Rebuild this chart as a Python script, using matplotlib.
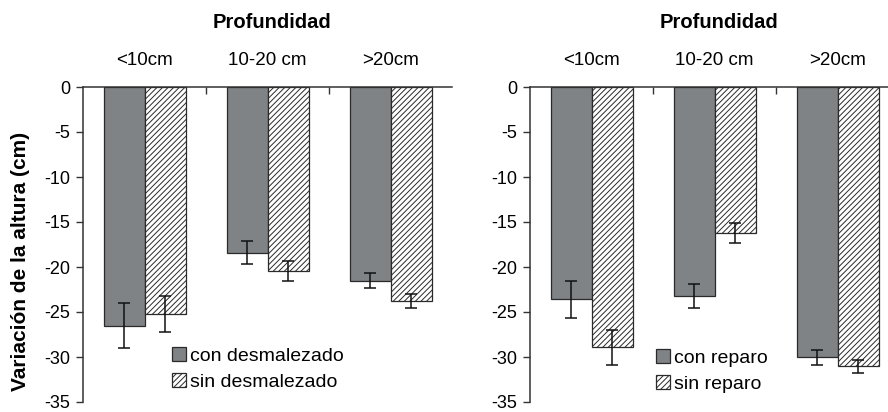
import matplotlib.pyplot as plt
import numpy as np
from matplotlib.patches import Patch

plt.rcParams['font.family'] = ['Liberation Sans', 'DejaVu Sans']
plt.rcParams['hatch.linewidth'] = 0.7

categories = ['<10cm', '10-20 cm', '>20cm']
yticks = [0, -5, -10, -15, -20, -25, -30, -35]

# left panel: weeding treatment
con_desm = [-26.5, -18.4, -21.5]
con_desm_err = [2.45, 1.3, 0.85]
sin_desm = [-25.2, -20.4, -23.8]
sin_desm_err = [2.0, 1.1, 0.8]

# right panel: shelter treatment
con_rep = [-23.6, -23.2, -30.05]
con_rep_err = [2.1, 1.3, 0.85]
sin_rep = [-28.9, -16.2, -31.05]
sin_rep_err = [1.95, 1.1, 0.7]

W, H = 888, 412
fig = plt.figure(figsize=(W / 100, H / 100), dpi=100)

gray = '#7f8385'
edge = '#2a2a2a'
w = 1 / 3


def panel(left, con, con_err, sin, sin_err, labels, leg_xy):
    ax = fig.add_axes([left / W, 10 / H, 369 / W, 315 / H])
    x = np.arange(len(categories))
    ax.bar(x - w / 2, con, w, color=gray, edgecolor=edge, linewidth=0.9,
           label=labels[0], zorder=2)
    ax.bar(x + w / 2, sin, w, color='white', edgecolor=edge, linewidth=0.9,
           hatch='//////', label=labels[1], zorder=2)
    ax.errorbar(x - w / 2, con, yerr=con_err, fmt='none', ecolor='#111111',
                elinewidth=1.1, capsize=4, capthick=1.1, zorder=3)
    ax.errorbar(x + w / 2, sin, yerr=sin_err, fmt='none', ecolor='#111111',
                elinewidth=1.1, capsize=4, capthick=1.1, zorder=3)

    ax.set_xlim(-0.5, 2.5)
    ax.set_ylim(-35, 0)
    ax.set_yticks(yticks)
    ax.set_yticklabels([str(t) for t in yticks], fontsize=13)
    ax.tick_params(axis='y', direction='out', length=5, width=1,
                   color='#333333', pad=4)

    ax.xaxis.tick_top()
    ax.set_xticks(x)
    ax.set_xticklabels(categories, fontsize=13.5)
    ax.set_xticks([0.5, 1.5], minor=True)
    ax.tick_params(axis='x', which='major', length=0, pad=13)
    ax.tick_params(axis='x', which='minor', direction='in', length=5,
                   width=1, color='#333333')

    for s in ['right', 'bottom']:
        ax.spines[s].set_visible(False)
    for s in ['left', 'top']:
        ax.spines[s].set_color('#333333')
        ax.spines[s].set_linewidth(1.1)

    handles = [Patch(facecolor=gray, edgecolor=edge, linewidth=0.9),
               Patch(facecolor='white', edgecolor=edge, linewidth=0.9,
                     hatch='//////')]
    fig.legend(handles, labels, loc='upper left',
               bbox_to_anchor=(leg_xy[0] / W, 1 - leg_xy[1] / H),
               frameon=False, fontsize=14, handlelength=0.7,
               handleheight=0.7, handletextpad=0.25, labelspacing=0.45,
               borderpad=0, borderaxespad=0)
    return ax


panel(83, con_desm, con_desm_err, sin_desm, sin_desm_err,
      ['con desmalezado', 'sin desmalezado'], (172, 347))
panel(530, con_rep, con_rep_err, sin_rep, sin_rep_err,
      ['con reparo', 'sin reparo'], (656, 349))

fig.text(272 / W, 1 - 22 / H, 'Profundidad', fontsize=14.5,
         fontweight='bold', ha='center', va='center')
fig.text(719 / W, 1 - 22 / H, 'Profundidad', fontsize=14.5,
         fontweight='bold', ha='center', va='center')
fig.text(21 / W, 1 - 261 / H, 'Variación de la altura (cm)', fontsize=15,
         fontweight='bold', rotation=90, ha='center', va='center')

fig.savefig('out.png', dpi=100)
